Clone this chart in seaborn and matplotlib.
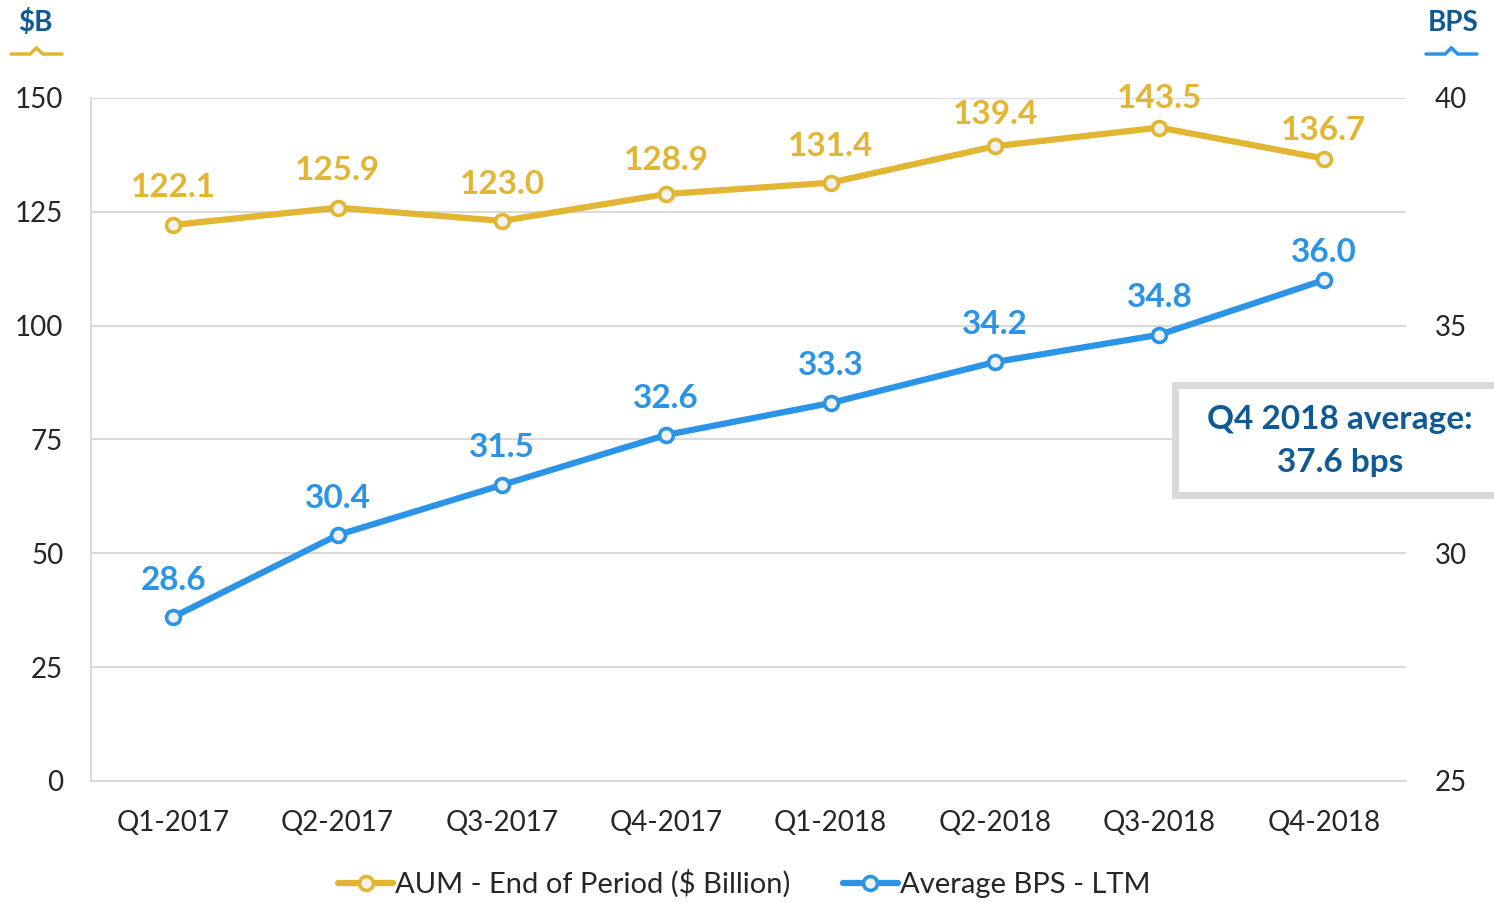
import pandas as pd
import matplotlib.pyplot as plt
import seaborn as sns
from matplotlib.lines import Line2D
from matplotlib.patches import Rectangle

quarters = ["Q1-2017", "Q2-2017", "Q3-2017", "Q4-2017",
            "Q1-2018", "Q2-2018", "Q3-2018", "Q4-2018"]
aum = [122.1, 125.9, 123.0, 128.9, 131.4, 139.4, 143.5, 136.7]
bps = [28.6, 30.4, 31.5, 32.6, 33.3, 34.2, 34.8, 36.0]
left_ticks = [0, 25, 50, 75, 100, 125, 150]
right_ticks = [25, 30, 35, 40]

# label distance above each point, in points (style, not data)
aum_label_off = [27, 27, 26, 24, 26, 23, 21, 20]
bps_label_off = [26, 26, 27, 26, 27, 27, 27, 20]

GOLD = "#E2B533"
BLUE = "#2B94E6"
NAVY = "#0F5A94"
GRID = "#DADADA"

sns.set_style("white")
plt.rcParams["font.family"] = ["Lato", "DejaVu Sans"]

df = pd.DataFrame({"quarter": quarters, "aum": aum, "bps": bps})
df["x"] = range(len(df))

fig = plt.figure(figsize=(14.94, 9.02), dpi=100)
ax = fig.add_axes([0.0609, 0.1342, 0.8802, 0.7572])
ax2 = ax.twinx()

marker_kw = dict(marker="o", markersize=10, markerfacecolor="#F2F2F2",
                 markeredgewidth=2.6, linewidth=4.5)
sns.lineplot(data=df, x="x", y="aum", ax=ax, color=GOLD,
             markeredgecolor=GOLD, **marker_kw)
sns.lineplot(data=df, x="x", y="bps", ax=ax2, color=BLUE,
             markeredgecolor=BLUE, **marker_kw)

ax.set_xlim(-0.5, len(quarters) - 0.5)
ax.set_ylim(0, 150)
ax2.set_ylim(25, 40)
ax.set_yticks(left_ticks)
ax2.set_yticks(right_ticks)
ax.set_xticks(df["x"])
ax.set_xticklabels(quarters)
ax.set_xlabel("")
ax.set_ylabel("")
ax2.set_ylabel("")

for a in (ax, ax2):
    for s in ("top", "right"):
        a.spines[s].set_visible(False)
ax2.spines["left"].set_visible(False)
ax2.spines["bottom"].set_visible(False)
ax.spines["left"].set_color(GRID)
ax.spines["bottom"].set_color(GRID)
ax.spines["left"].set_linewidth(1.5)
ax.spines["bottom"].set_linewidth(1.5)

ax.yaxis.grid(True, color=GRID, linewidth=1.5)
ax.set_axisbelow(True)
ax.tick_params(axis="y", length=0, pad=20, labelsize=20, labelcolor="#262626")
ax.tick_params(axis="x", length=0, pad=21, labelsize=20, labelcolor="#262626")
ax2.tick_params(axis="y", length=0, pad=21, labelsize=20, labelcolor="#262626")

for x, v, off in zip(df["x"], aum, aum_label_off):
    ax.annotate(f"{v:.1f}", (x, v), xytext=(0, off), textcoords="offset points",
                ha="center", va="center", fontsize=24, fontweight="bold", color=GOLD)
for x, v, off in zip(df["x"], bps, bps_label_off):
    ax2.annotate(f"{v:.1f}", (x, v), xytext=(0, off), textcoords="offset points",
                 ha="center", va="center", fontsize=24, fontweight="bold", color=BLUE)

# annotation box on the right
fig.add_artist(Rectangle((0.7865, 0.4512), 0.25, 0.122, transform=fig.transFigure,
                         facecolor="white", edgecolor="#D9DADB", linewidth=5,
                         clip_on=False, zorder=5))
fig.text(0.8969, 0.511, "Q4 2018 average:\n37.6 bps", ha="center", va="center",
         fontsize=24, fontweight="bold", color=NAVY, linespacing=1.55, zorder=6)

# axis unit labels
fig.text(0.0234, 0.975, "$B", ha="center", va="center", fontsize=20,
         fontweight="bold", color=NAVY)
fig.text(0.9726, 0.975, "BPS", ha="center", va="center", fontsize=20,
         fontweight="bold", color=NAVY)
for x0, col in ((0.0074, GOLD), (0.9545, BLUE)):
    xs = [x0, x0 + 0.0127, x0 + 0.0170, x0 + 0.0213, x0 + 0.0341]
    ys = [0.9401, 0.9401, 0.9468, 0.9401, 0.9401]
    fig.add_artist(Line2D(xs, ys, transform=fig.transFigure, color=col,
                          linewidth=2.5, solid_joinstyle="miter"))

handles = [Line2D([], [], color=GOLD, markeredgecolor=GOLD, **marker_kw),
           Line2D([], [], color=BLUE, markeredgecolor=BLUE, **marker_kw)]
fig.legend(handles, ["AUM - End of Period ($ Billion)", "Average BPS - LTM"],
           loc="center", bbox_to_anchor=(0.498, 0.02), ncol=2, frameon=False,
           fontsize=21, handlelength=1.9, handletextpad=0.05, columnspacing=1.8,
           labelcolor="#262626")

fig.savefig("out.png", dpi=100)
